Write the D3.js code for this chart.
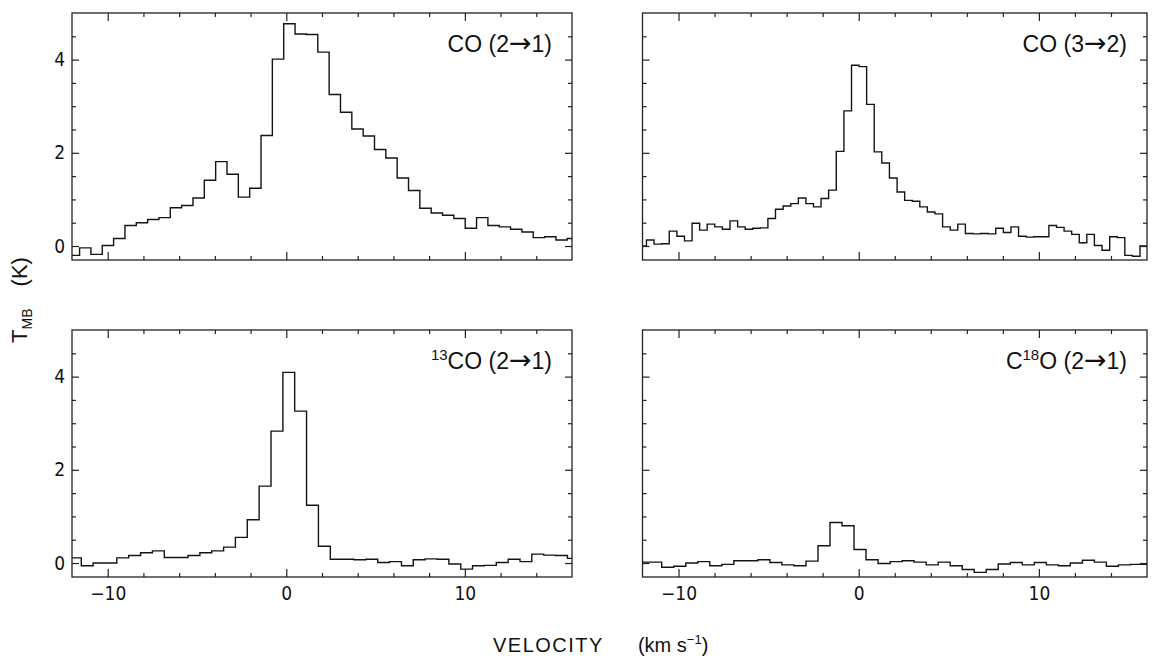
<!DOCTYPE html>
<html>
<head>
<meta charset="utf-8">
<script src="https://cdn.jsdelivr.net/npm/d3@7"></script>
<style>
  body { margin: 0; background: #fff; }
  svg text { fill: #111; }
  .tick-label { font-family: "Liberation Sans Narrow", "DejaVu Sans Condensed", "Arial Narrow", sans-serif; font-size: 19px; }
  .panel-label, .axis-title { font-family: "Liberation Sans", Arial, Helvetica, sans-serif; }
</style>
</head>
<body>
<div id="chart-area"></div>
<script>
// channel centres (km/s) and main-beam temperatures (K)
const co21Vel = [-11.89, -11.26, -10.62, -9.99, -9.35, -8.72, -8.08, -7.45, -6.81, -6.18,
  -5.54, -4.91, -4.27, -3.64, -3.00, -2.37, -1.73, -1.10, -0.46, 0.17,
  0.81, 1.45, 2.08, 2.72, 3.35, 3.99, 4.62, 5.26, 5.89, 6.53,
  7.16, 7.80, 8.43, 9.07, 9.70, 10.34, 10.97, 11.61, 12.24, 12.88,
  13.51, 14.15, 14.78, 15.42, 16.05]
const co21Tmb = [-0.2, -0.04, -0.18, 0.01, 0.16, 0.44, 0.5, 0.57, 0.61, 0.82,
  0.87, 1.03, 1.41, 1.81, 1.54, 1.05, 1.24, 2.37, 4.01, 4.77,
  4.55, 4.54, 4.16, 3.25, 2.87, 2.51, 2.36, 2.07, 1.89, 1.46,
  1.19, 0.81, 0.71, 0.66, 0.59, 0.38, 0.61, 0.44, 0.41, 0.36,
  0.3, 0.18, 0.2, 0.13, 0.16]

const co32Vel = [-11.99, -11.57, -11.15, -10.73, -10.30, -9.88, -9.46, -9.04, -8.62, -8.20,
  -7.78, -7.36, -6.93, -6.51, -6.09, -5.67, -5.25, -4.83, -4.41, -3.98,
  -3.56, -3.14, -2.72, -2.30, -1.88, -1.46, -1.03, -0.61, -0.19, 0.23,
  0.65, 1.07, 1.49, 1.92, 2.34, 2.76, 3.18, 3.60, 4.02, 4.44,
  4.87, 5.29, 5.71, 6.13, 6.55, 6.97, 7.39, 7.82, 8.24, 8.66,
  9.08, 9.50, 9.92, 10.34, 10.77, 11.19, 11.61, 12.03, 12.45, 12.87,
  13.29, 13.72, 14.14, 14.56, 14.98, 15.40, 15.82]
const co32Tmb = [0.0, 0.13, 0.04, 0.05, 0.32, 0.21, 0.11, 0.49, 0.34, 0.47,
  0.41, 0.36, 0.54, 0.41, 0.36, 0.38, 0.39, 0.59, 0.79, 0.86,
  0.91, 1.03, 0.91, 0.84, 1.02, 1.2, 2.03, 2.9, 3.88, 3.85,
  3.04, 2.02, 1.78, 1.46, 1.16, 0.98, 0.96, 0.84, 0.73, 0.69,
  0.41, 0.34, 0.47, 0.27, 0.26, 0.27, 0.26, 0.38, 0.29, 0.41,
  0.21, 0.19, 0.2, 0.2, 0.44, 0.4, 0.32, 0.25, 0.07, 0.25,
  0.01, -0.09, 0.2, 0.18, -0.2, -0.22, 0.0]

const co13Vel = [-11.81, -11.15, -10.48, -9.82, -9.16, -8.49, -7.83, -7.16, -6.50, -5.84,
  -5.17, -4.51, -3.84, -3.18, -2.52, -1.85, -1.19, -0.52, 0.14, 0.80,
  1.47, 2.13, 2.80, 3.46, 4.12, 4.79, 5.45, 6.12, 6.78, 7.44,
  8.11, 8.77, 9.44, 10.10, 10.76, 11.43, 12.09, 12.76, 13.42, 14.08,
  14.75, 15.41, 16.08]
const co13Tmb = [0.11, -0.06, 0.0, 0.0, 0.11, 0.16, 0.22, 0.26, 0.12, 0.12,
  0.16, 0.22, 0.26, 0.34, 0.55, 0.93, 1.65, 2.83, 4.09, 3.26,
  1.24, 0.36, 0.08, 0.08, 0.07, 0.08, 0.01, 0.03, -0.06, 0.07,
  0.09, 0.08, -0.02, -0.13, -0.06, -0.05, 0.01, 0.08, 0.03, 0.19,
  0.17, 0.16, 0.1]

const c18oVel = [-11.93, -11.27, -10.60, -9.93, -9.26, -8.60, -7.93, -7.26, -6.60, -5.93,
  -5.26, -4.60, -3.93, -3.26, -2.59, -1.93, -1.26, -0.59, 0.07, 0.74,
  1.41, 2.08, 2.74, 3.41, 4.08, 4.74, 5.41, 6.08, 6.74, 7.41,
  8.08, 8.75, 9.41, 10.08, 10.75, 11.41, 12.08, 12.75, 13.41, 14.08,
  14.75, 15.42, 16.08]
const c18oTmb = [0.02, 0.02, -0.09, -0.07, 0.0, 0.03, -0.06, -0.03, 0.05, 0.05,
  0.07, 0.01, -0.04, -0.06, 0.04, 0.37, 0.87, 0.8, 0.29, 0.07,
  -0.01, 0.03, 0.05, 0.02, -0.04, 0.02, -0.06, -0.14, -0.2, -0.14,
  -0.02, 0.01, -0.04, 0.01, -0.04, -0.06, 0.0, 0.06, 0.02, -0.07,
  -0.04, -0.03, -0.03]

// axis ranges and ticks
const xRange = [-12, 16]
const yRange = [-0.3, 5]
const xMajorTicks = [-10, 0, 10]
const xMinorTicks = [-8, -6, -4, -2, 2, 4, 6, 8, 12, 14]
const yMajorTicks = [0, 2, 4]
const yMinorTicks = [0.5, 1, 1.5, 2.5, 3, 3.5, 4.5]

// label text pieces: [text, kind]
const labelCO21 = [["CO (2", ""], ["\u2192", "arrow"], ["1)", ""]]
const labelCO32 = [["CO (3", ""], ["\u2192", "arrow"], ["2)", ""]]
const label13CO = [["13", "sup"], ["CO (2", ""], ["\u2192", "arrow"], ["1)", ""]]
const labelC18O = [["C", ""], ["18", "sup"], ["O (2", ""], ["\u2192", "arrow"], ["1)", ""]]

const W = 1152
const H = 658

const panels = [
	{ id: "co21", left: 72, right: 572, top: 13, bottom: 260, vel: co21Vel, tmb: co21Tmb, label: labelCO21, yLab: true, xLab: false },
	{ id: "co32", left: 642.5, right: 1147, top: 13, bottom: 260, vel: co32Vel, tmb: co32Tmb, label: labelCO32, yLab: false, xLab: false },
	{ id: "co13", left: 72, right: 572, top: 330, bottom: 577, vel: co13Vel, tmb: co13Tmb, label: label13CO, yLab: true, xLab: true },
	{ id: "c18o", left: 642.5, right: 1147, top: 330, bottom: 577, vel: c18oVel, tmb: c18oTmb, label: labelC18O, yLab: false, xLab: true }
]

const svg = d3.select("#chart-area").append("svg")
	.attr("width", W)
	.attr("height", H)

const defs = svg.append("defs")

panels.forEach(p => {
	const x = d3.scaleLinear().domain(xRange).range([p.left, p.right])
	const y = d3.scaleLinear().domain(yRange).range([p.bottom, p.top])
	const g = svg.append("g").attr("class", "panel " + p.id)

	defs.append("clipPath").attr("id", "clip-" + p.id)
		.append("rect")
		.attr("x", p.left).attr("y", p.top)
		.attr("width", p.right - p.left).attr("height", p.bottom - p.top)

	// histogram: pad half a channel on each end so the steps reach the frame
	const pts = p.vel.map((v, i) => [v, p.tmb[i]])
	const n = pts.length
	const dFirst = (pts[1][0] - pts[0][0]) / 2
	const dLast = (pts[n - 1][0] - pts[n - 2][0]) / 2
	const stepPts = [[pts[0][0] - dFirst, pts[0][1]]].concat(pts, [[pts[n - 1][0] + dLast, pts[n - 1][1]]])

	const line = d3.line()
		.x(d => x(d[0]))
		.y(d => y(d[1]))
		.curve(d3.curveStep)

	g.append("path")
		.datum(stepPts)
		.attr("clip-path", "url(#clip-" + p.id + ")")
		.attr("fill", "none")
		.attr("stroke", "#141414")
		.attr("stroke-width", 1.4)
		.attr("d", line)

	// ticks point inward on all four sides
	const addAxis = (axisFn, scale, vals, size, shift, labels) => {
		const ax = axisFn(scale).tickValues(vals).tickSizeInner(-size).tickSizeOuter(0)
			.tickPadding(labels ? (axisFn === d3.axisBottom ? 10 : 7) : 0)
			.tickFormat(labels ? d3.format("d") : "")
		const ag = g.append("g").attr("transform", shift).call(ax)
		ag.select(".domain").remove()
		ag.selectAll(".tick line").attr("stroke", "#222").attr("stroke-width", 1.2)
		ag.selectAll(".tick text").attr("class", "tick-label").attr("font-family", null).attr("font-size", null)
	}
	addAxis(d3.axisBottom, x, xMajorTicks, 8, `translate(0,${p.bottom})`, p.xLab)
	addAxis(d3.axisBottom, x, xMinorTicks, 4, `translate(0,${p.bottom})`, false)
	addAxis(d3.axisTop, x, xMajorTicks, 8, `translate(0,${p.top})`, false)
	addAxis(d3.axisTop, x, xMinorTicks, 4, `translate(0,${p.top})`, false)
	addAxis(d3.axisLeft, y, yMajorTicks, 7, `translate(${p.left},0)`, p.yLab)
	addAxis(d3.axisLeft, y, yMinorTicks, 4, `translate(${p.left},0)`, false)
	addAxis(d3.axisRight, y, yMajorTicks, 7, `translate(${p.right},0)`, false)
	addAxis(d3.axisRight, y, yMinorTicks, 4, `translate(${p.right},0)`, false)

	g.append("rect")
		.attr("x", p.left).attr("y", p.top)
		.attr("width", p.right - p.left).attr("height", p.bottom - p.top)
		.attr("fill", "none")
		.attr("stroke", "#222")
		.attr("stroke-width", 1.3)

	// transition label
	const lab = g.append("text")
		.attr("class", "panel-label")
		.attr("x", p.right - 20)
		.attr("y", p.top + 39)
		.attr("text-anchor", "end")
		.attr("font-size", "23px")
	let raised = false
	p.label.forEach(([t, kind]) => {
		const ts = lab.append("tspan").text(t)
		if (kind === "sup") {
			ts.attr("font-size", "15px").attr("dy", -9)
			raised = true
		} else {
			if (raised) { ts.attr("dy", 9); raised = false }
			if (kind === "arrow") ts.attr("font-family", "DejaVu Sans").attr("font-size", "27px")
		}
	})
})

// Y label
const yt = svg.append("text")
	.attr("class", "axis-title")
	.attr("transform", "translate(27,300) rotate(-90)")
	.attr("text-anchor", "middle")
	.attr("font-size", "22px")
yt.append("tspan").text("T")
yt.append("tspan").attr("font-size", "14px").attr("dy", 5).text("MB")
yt.append("tspan").attr("dy", -5).attr("dx", 22).text("(K)")

// X label
const xt = svg.append("text")
	.attr("class", "axis-title")
	.attr("x", 493)
	.attr("y", 652)
	.attr("font-size", "20px")
xt.append("tspan").attr("letter-spacing", "1.5px").text("VELOCITY")
xt.append("tspan").attr("dx", 34).text("(km s")
xt.append("tspan").attr("font-size", "13px").attr("dy", -8).text("\u22121")
xt.append("tspan").attr("dy", 8).text(")")
</script>
</body>
</html>
